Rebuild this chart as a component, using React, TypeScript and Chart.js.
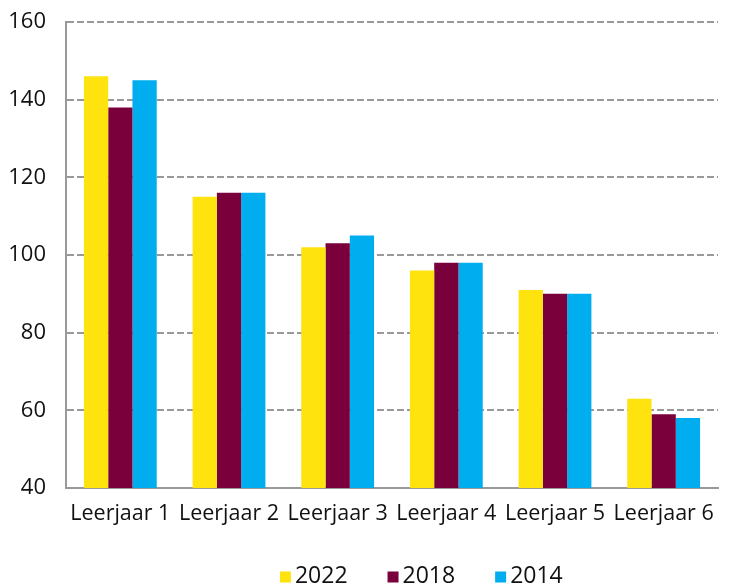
import React, { useEffect, useRef } from "react";
import { Chart, registerables } from "chart.js";

Chart.register(...registerables);

const categories = ["Leerjaar 1", "Leerjaar 2", "Leerjaar 3", "Leerjaar 4", "Leerjaar 5", "Leerjaar 6"];
const seriesNames = ["2022", "2018", "2014"];
const values2022 = [146, 115, 102, 96, 91, 63];
const values2018 = [138, 116, 103, 98, 90, 59];
const values2014 = [145, 116, 105, 98, 90, 58];
const seriesColors = ["#FFE30F", "#7A003C", "#00ADEE"];
const yMin = 40;
const yMax = 160;
const yStep = 20;

const FONT = '"Open Sans", "DejaVu Sans", sans-serif';

const customLegend = {
  id: "customLegend",
  afterDraw(chart: any) {
    const ctx = chart.ctx as CanvasRenderingContext2D;
    const ds = chart.data.datasets;
    ctx.save();
    ctx.font = `23px ${FONT}`;
    ctx.textBaseline = "middle";
    ctx.textAlign = "left";
    const box = 11;
    const gap = 4;
    const spacing = 40;
    const widths = ds.map((d: any) => ctx.measureText(d.label).width);
    const total = widths.reduce((a: number, w: number) => a + box + gap + w, 0) + spacing * (ds.length - 1);
    const centerX = chart.chartArea.left + (chart.chartArea.right - chart.chartArea.left) * 0.545;
    let x = centerX - total / 2;
    const y = chart.height - 10;
    ds.forEach((d: any, i: number) => {
      ctx.fillStyle = d.backgroundColor;
      ctx.fillRect(x, y - box / 2, box, box);
      ctx.fillStyle = "#111";
      ctx.fillText(d.label, x + box + gap, y - 1);
      x += box + gap + widths[i] + spacing;
    });
    ctx.restore();
  },
};

export default function App() {
  const ref = useRef<HTMLCanvasElement | null>(null);
  useEffect(() => {
    if (!ref.current) return;
    const seriesValues = [values2022, values2018, values2014];
    const chart = new Chart(ref.current, {
      type: "bar",
      data: {
        labels: categories,
        datasets: seriesNames.map((name, i) => ({
          label: name,
          data: seriesValues[i],
          backgroundColor: seriesColors[i],
          borderWidth: 0,
          categoryPercentage: 0.67,
          barPercentage: 1.0,
        })),
      },
      options: {
        responsive: false,
        animation: false,
        layout: { padding: { left: 0, right: 11, top: 22, bottom: 59 } },
        plugins: {
          legend: { display: false },
          tooltip: { enabled: false },
        },
        scales: {
          x: {
            grid: { display: false, drawTicks: false },
            border: { display: true, color: "#999999", width: 2 },
            ticks: {
              color: "#111",
              font: { family: FONT, size: 21.5 },
              padding: 13,
              maxRotation: 0,
              autoSkip: false,
            },
            afterFit: (scale: any) => {
              scale.height = 40;
            },
          },
          y: {
            min: yMin,
            max: yMax,
            grid: { color: "#999999", lineWidth: 2, drawTicks: false },
            border: { display: true, color: "#999999", width: 2, dash: [7, 3] },
            ticks: {
              stepSize: yStep,
              color: "#111",
              font: { family: FONT, size: 22 },
              padding: 20,
            },
            afterFit: (scale: any) => {
              scale.width = 66;
              scale.paddingTop = 0;
              scale.paddingBottom = 0;
            },
          },
        },
      },
      plugins: [customLegend],
    });
    return () => chart.destroy();
  }, []);
  return (
    <div style={{ position: "absolute", left: 0, top: 0, width: 729, height: 587, background: "#fff" }}>
      <canvas ref={ref} width={729} height={587} style={{ width: 729, height: 587 }} />
    </div>
  );
}
